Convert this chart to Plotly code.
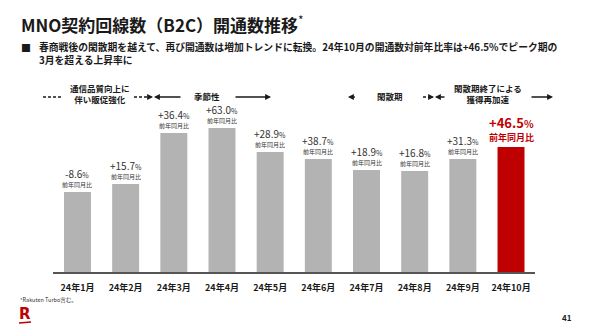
import plotly.graph_objects as go

# Monthly new activations (index, B2C MNO lines)
months = ["24年1月", "24年2月", "24年3月", "24年4月", "24年5月",
          "24年6月", "24年7月", "24年8月", "24年9月", "24年10月"]
activations = [80, 88, 139, 144, 120, 113, 102, 101, 113, 125]
yoy_pct = ["-8.6", "+15.7", "+36.4", "+63.0", "+28.9",
           "+38.7", "+18.9", "+16.8", "+31.3", "+46.5"]

W, H = 590, 331
GREY = "#b3b3b3"
RED = "#bf0000"
INK = "#1a1a1a"
JP = "Noto Sans CJK JP"


def px(x):
    return x / W


def py(y):
    return 1 - y / H


colors = [GREY] * (len(months) - 1) + [RED]

fig = go.Figure(go.Bar(
    x=months, y=activations, marker=dict(color=colors, line=dict(width=0)),
    hoverinfo="skip",
))

ann = []
shapes = []


def note(x, y, text, size, color=INK, xanchor="center", align="center", family=JP):
    ann.append(dict(x=px(x), y=py(y), xref="paper", yref="paper",
                    xanchor=xanchor, yanchor="middle", align=align,
                    showarrow=False, text=text,
                    font=dict(family=family, size=size, color=color)))


# Year-over-year labels above each bar
for i, (m, v, p) in enumerate(zip(months, activations, yoy_pct)):
    last = i == len(months) - 1
    if last:
        ann.append(dict(x=m, y=v, xref="x", yref="y", yshift=10, showarrow=False,
                        yanchor="middle",
                        text="<b>前年同月比</b>", font=dict(family=JP, size=9, color=RED)))
        ann.append(dict(x=m, y=v, xref="x", yref="y", yshift=25, showarrow=False,
                        yanchor="middle",
                        text=f"<b>{p}<span style='font-size:10px'>%</span></b>",
                        font=dict(family=JP, size=13, color=RED)))
    else:
        ann.append(dict(x=m, y=v, xref="x", yref="y", yshift=8, showarrow=False,
                        yanchor="middle",
                        text="前年同月比", font=dict(family=JP, size=6, color="#333")))
        ann.append(dict(x=m, y=v, xref="x", yref="y", yshift=19, showarrow=False,
                        yanchor="middle",
                        text=f"{p}<span style='font-size:7px'>%</span>",
                        font=dict(family=JP, size=10, color="#333")))

# Title, lead text, footnote
note(19, 24, "<b>MNO契約回線数（B2C）開通数推移</b><sup style='font-size:6px'>*</sup>",
     17, xanchor="left")
note(19, 47, "<b>■</b>", 10, xanchor="left")
note(37, 54,
     "<b>春商戦後の閑散期を越えて、再び開通数は増加トレンドに転換。24年10月の開通数対前年比率は+46.5%でピーク期の"
     "<br>3月を超える上昇率に</b>", 9.8, xanchor="left", align="left")
note(18, 300, "*Rakuten Turbo含む。", 5.5, color="#333", xanchor="left")
note(567, 317, "<b>41</b>", 8)
note(24.5, 314, "<b>R</b>", 15, color=RED, family="DejaVu Sans")
shapes.append(dict(type="line", xref="paper", yref="paper",
                   x0=px(19), x1=px(31), y0=py(323), y1=py(322),
                   line=dict(color=RED, width=1.5)))

# Period annotations along the top
ARROW_Y = 97
note(100, 93, "<b>通信品質向上に<br>伴い販促強化</b>", 8.5)
note(207, 96, "<b>季節性</b>", 8.5)
note(390, 96, "<b>閑散期</b>", 8.5)
note(488, 93, "<b>閑散期終了による<br>獲得再加速</b>", 8.5)

# dashed segments
for x0, x1 in [(43, 63), (134, 150), (423, 432), (352, 357)]:
    shapes.append(dict(type="line", xref="paper", yref="paper",
                       x0=px(x0), x1=px(x1), y0=py(ARROW_Y), y1=py(ARROW_Y),
                       line=dict(color=INK, width=1.3, dash="3px,2px")))


def arrow(head, tail):
    ann.append(dict(x=px(head), y=py(ARROW_Y), xref="paper", yref="paper",
                    ax=tail - head, ay=0, text="", showarrow=True,
                    arrowhead=2, arrowsize=0.9, arrowwidth=1.3, arrowcolor=INK))


arrow(153, 149)   # dashed arrow head, right
arrow(154, 182)   # seasonality start, left
arrow(271, 234)   # seasonality end, right
arrow(348, 352)   # quiet period, left
arrow(434, 430)   # dashed arrow head, right
arrow(435, 446)   # re-acceleration, left
arrow(553, 530)   # re-acceleration, right

fig.update_layout(
    width=W, height=H,
    margin=dict(l=0, r=0, t=0, b=0),
    paper_bgcolor="white", plot_bgcolor="white",
    bargap=0.44,
    showlegend=False,
    annotations=ann,
    shapes=shapes,
    xaxis=dict(domain=[53.4 / W, 535.1 / W], range=[-0.5, 9.5],
               showline=True, linecolor="#555", linewidth=1.5,
               showgrid=False, zeroline=False, ticks="",
               tickfont=dict(family=JP, size=9, color=INK, weight="bold"),
               ticklabelstandoff=6, fixedrange=True),
    yaxis=dict(domain=[1 - 272 / H, 1 - 80 / H], range=[0, 192],
               visible=False, showgrid=False, zeroline=False, fixedrange=True),
)

fig.write_html("out.html")
